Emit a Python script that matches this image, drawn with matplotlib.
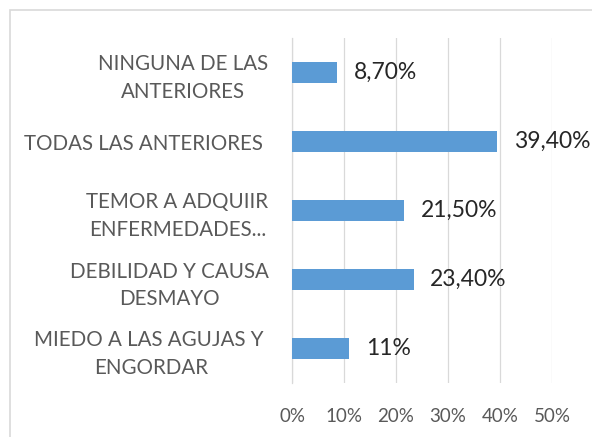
import matplotlib
matplotlib.use("Agg")
import matplotlib.pyplot as plt
from matplotlib.patches import Rectangle
from matplotlib.ticker import FuncFormatter

# datos (de abajo hacia arriba, como en Excel)
categorias = [
    "MIEDO A LAS AGUJAS Y \nENGORDAR",
    "DEBILIDAD Y CAUSA\nDESMAYO",
    "TEMOR A ADQUIIR\nENFERMEDADES...",
    "TODAS LAS ANTERIORES ",
    "NINGUNA DE LAS\nANTERIORES",
]
valores = [0.11, 0.234, 0.215, 0.394, 0.087]
etiquetas = ["11%", "23,40%", "21,50%", "39,40%", "8,70%"]
ticks_x = [0, 0.1, 0.2, 0.3, 0.4, 0.5]

plt.rcParams["font.family"] = ["Lato", "DejaVu Sans"]

W, H = 592, 437
fig = plt.figure(figsize=(W / 100, H / 100), dpi=100)
ax = fig.add_axes([292 / W, 1 - 383 / H, 260 / W, (383 - 38) / H])

pos = range(len(categorias))
ax.barh(pos, valores, height=0.30, color="#5B9BD5", zorder=3)

for y, v, t in zip(pos, valores, etiquetas):
    ax.annotate(t, (v, y), xytext=(12, 0), textcoords="offset points",
                va="center", ha="left", fontsize=16.5, color="#262626")

ax.set_xlim(0, 0.5)
ax.set_ylim(-0.5, len(categorias) - 0.5)
ax.set_xticks(ticks_x)
ax.xaxis.set_major_formatter(FuncFormatter(lambda x, p: f"{x * 100:.0f}%"))
ax.set_yticks(list(pos))
ax.set_yticklabels(categorias, multialignment="center", linespacing=1.45)

ax.tick_params(axis="x", length=0, pad=18, labelsize=13.5, labelcolor="#595959")
ax.tick_params(axis="y", length=0, pad=17, labelsize=14.8, labelcolor="#595959")

ax.grid(axis="x", color="#D9D9D9", linewidth=0.9, zorder=0)
for s in ["top", "right", "bottom"]:
    ax.spines[s].set_visible(False)
ax.spines["left"].set_color("#D9D9D9")
ax.spines["left"].set_linewidth(0.9)

# borde del gráfico
fig.patches.append(Rectangle((10 / W, -0.1), 1.0, 1 - 10 / H + 0.1,
                             transform=fig.transFigure, fill=False,
                             edgecolor="#D9D9D9", linewidth=1.2))

fig.savefig("out.png", dpi=100)
